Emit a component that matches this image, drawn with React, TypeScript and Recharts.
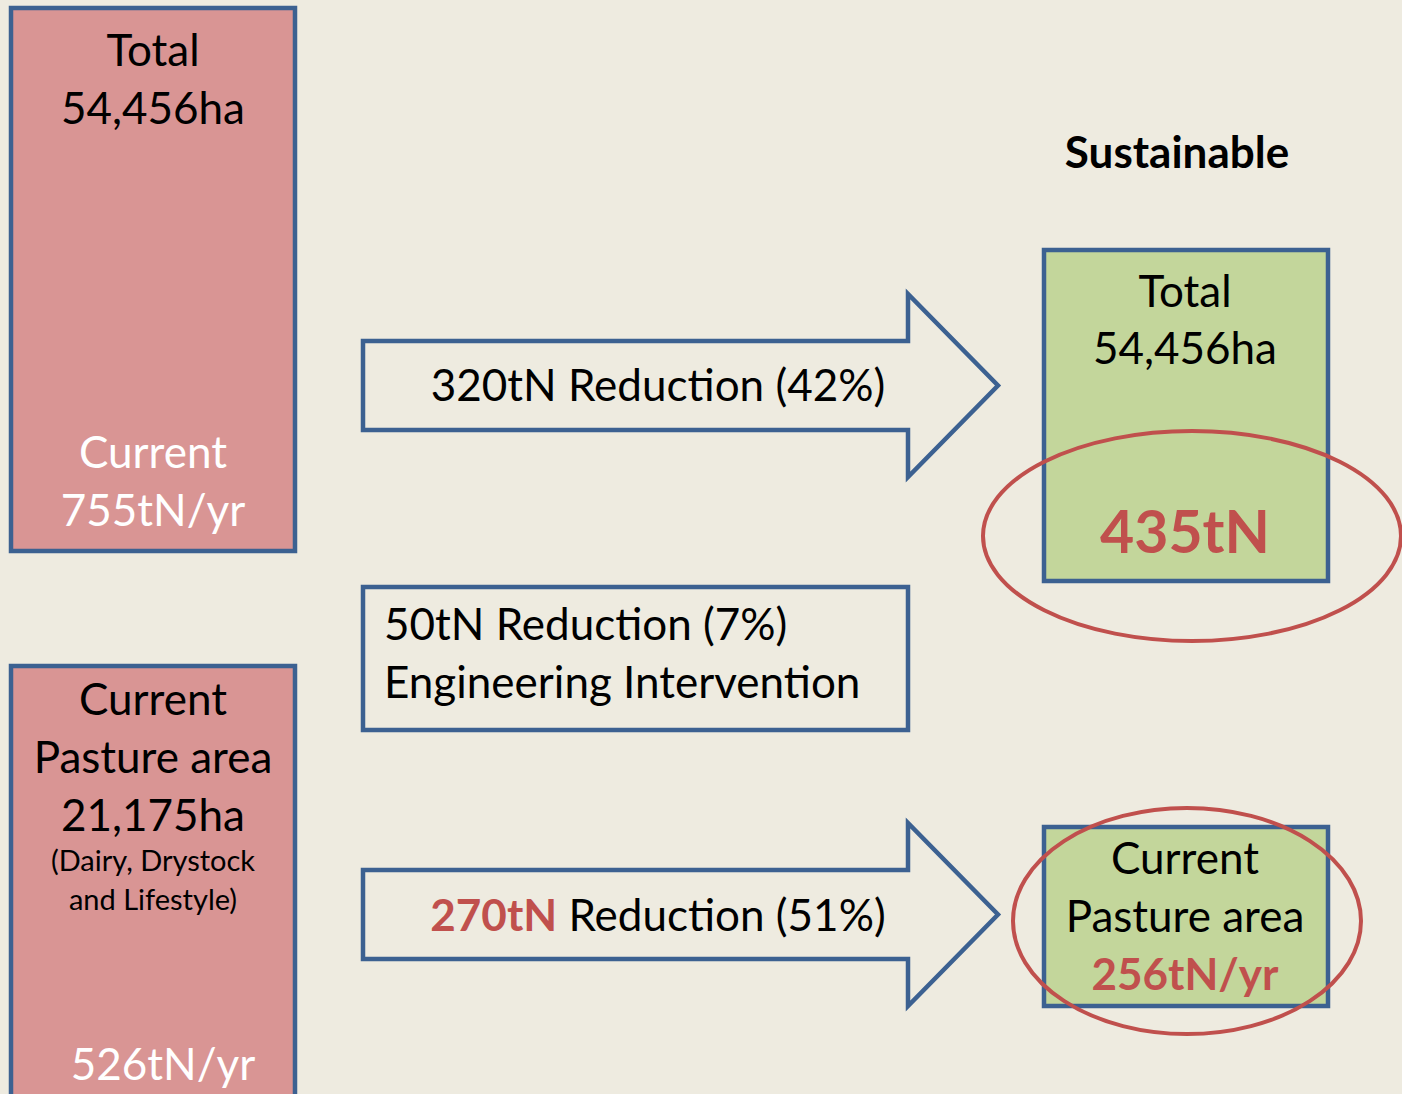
import React from "react";
import { Surface, Rectangle, Polygon } from "recharts";

// ---- data ----
const totalAreaHa = 54456;
const currentLoadTN = 755;
const pastureAreaHa = 21175;
const pastureLoadTN = 526;
const pastureNote = ["(Dairy, Drystock", "and Lifestyle)"];
const reductionsTN = [320, 50, 270];
const reductionsPct = [42, 7, 51];
const interventionLabel = "Engineering Intervention";
const sustainableTotalTN = 435;
const sustainablePastureTN = 256;
const titleRight = "Sustainable";

// ---- style ----
const BG = "#EEEBE0";
const PINK = "#D99594";
const GREEN = "#C3D69B";
const BLUE = "#3C6191";
const RED = "#C0504D";
const FONT = "Lato, 'Open Sans', sans-serif";
const fmt = (n: number) => n.toLocaleString("en-US");

const T = (p: any) => (
  <text
    x={p.x}
    y={p.y}
    textAnchor={p.anchor || "middle"}
    fontSize={p.size || 44}
    fontWeight={p.bold ? 700 : 400}
    fill={p.fill || "#000"}
    fontFamily={FONT}
  >
    {p.children}
  </text>
);

const arrowPoints = (x0: number, yTop: number, yBot: number, xShaft: number, headTop: number, headBot: number, xTip: number) => {
  const yMid = (yTop + yBot) / 2;
  return [
    { x: x0, y: yTop },
    { x: xShaft, y: yTop },
    { x: xShaft, y: headTop },
    { x: xTip, y: yMid },
    { x: xShaft, y: headBot },
    { x: xShaft, y: yBot },
    { x: x0, y: yBot },
  ];
};

export default function App() {
  return (
    <div style={{ position: "absolute", left: 0, top: 0, width: 1402, height: 1094, background: BG }}>
      <Surface width={1402} height={1094}>
        <rect x={0} y={0} width={1402} height={1094} fill={BG} />

        {/* left top box */}
        <Rectangle x={11} y={8} width={284} height={543} fill={PINK} stroke={BLUE} strokeWidth={4.5} />
        <T x={153} y={66}>Total</T>
        <T x={153} y={124}>{fmt(totalAreaHa) + "ha"}</T>
        <T x={153} y={468} fill="#fff">Current</T>
        <T x={153} y={526} fill="#fff">{currentLoadTN + "tN/yr"}</T>

        {/* left bottom box */}
        <Rectangle x={11} y={666} width={284} height={460} fill={PINK} stroke={BLUE} strokeWidth={4.5} />
        <T x={153} y={715}>Current</T>
        <T x={153} y={773}>Pasture area</T>
        <T x={153} y={831}>{fmt(pastureAreaHa) + "ha"}</T>
        <T x={153} y={871} size={29}>{pastureNote[0]}</T>
        <T x={153} y={910} size={29}>{pastureNote[1]}</T>
        <T x={163} y={1080} fill="#fff">{pastureLoadTN + "tN/yr"}</T>

        {/* arrow 1 */}
        <Polygon points={arrowPoints(363, 341, 430, 908, 294, 477, 998)} fill={BG} stroke={BLUE} strokeWidth={4.5} />
        <T x={658} y={401}>{`${reductionsTN[0]}tN Reduction (${reductionsPct[0]}%)`}</T>

        {/* middle box */}
        <Rectangle x={363} y={587} width={545} height={143} fill={BG} stroke={BLUE} strokeWidth={4.5} />
        <T x={384} y={640} anchor="start">{`${reductionsTN[1]}tN Reduction (${reductionsPct[1]}%)`}</T>
        <T x={384} y={698} anchor="start">{interventionLabel}</T>

        {/* arrow 2 */}
        <Polygon points={arrowPoints(363, 870, 959, 908, 823, 1006, 998)} fill={BG} stroke={BLUE} strokeWidth={4.5} />
        <text x={658} y={931} textAnchor="middle" fontSize={44} fontFamily={FONT} fill="#000">
          <tspan fill={RED} fontWeight={700}>{reductionsTN[2] + "tN"}</tspan>
          <tspan>{` Reduction (${reductionsPct[2]}%)`}</tspan>
        </text>

        {/* right title */}
        <T x={1177} y={168} bold>{titleRight}</T>

        {/* right top green box */}
        <Rectangle x={1044} y={250} width={284} height={331} fill={GREEN} stroke={BLUE} strokeWidth={4.5} />
        <T x={1185} y={307}>Total</T>
        <T x={1185} y={364}>{fmt(totalAreaHa) + "ha"}</T>
        <T x={1185} y={553} size={59} bold fill={RED}>{sustainableTotalTN + "tN"}</T>
        <ellipse cx={1192} cy={536} rx={209} ry={105} fill="none" stroke={RED} strokeWidth={4} />

        {/* right bottom green box */}
        <Rectangle x={1044} y={827} width={284} height={179} fill={GREEN} stroke={BLUE} strokeWidth={4.5} />
        <T x={1185} y={874}>Current</T>
        <T x={1185} y={932}>Pasture area</T>
        <T x={1185} y={990} bold fill={RED}>{sustainablePastureTN + "tN/yr"}</T>
        <ellipse cx={1187} cy={921} rx={174} ry={113} fill="none" stroke={RED} strokeWidth={4} />
      </Surface>
    </div>
  );
}
